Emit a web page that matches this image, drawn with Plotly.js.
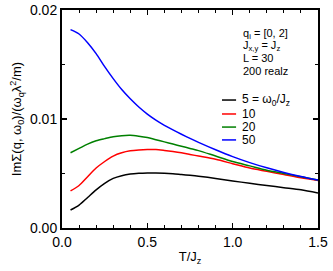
<!DOCTYPE html>
<html><head><meta charset="utf-8">
<script src="https://cdn.plot.ly/plotly-3.0.1.min.js"></script>
<style>html,body{margin:0;padding:0;background:#fff}#plot{width:333px;height:271px}</style>
</head><body><div id="plot"></div>
<script>
const T = [0.05,0.1,0.15,0.2,0.25,0.3,0.35,0.4,0.45,0.5,0.55,0.6,0.65,0.7,0.75,0.8,0.9,1.0,1.1,1.2,1.3,1.4,1.5];
const w5  = [0.00165,0.0021,0.0028,0.0035,0.0041,0.00455,0.0048,0.00495,0.00502,0.00505,0.00505,0.00502,0.00497,0.0049,0.00483,0.00475,0.00455,0.00432,0.0041,0.0039,0.0037,0.0035,0.0032];
const w10 = [0.0034,0.0039,0.0047,0.0055,0.0061,0.0066,0.0069,0.00708,0.00716,0.0072,0.0072,0.00712,0.00702,0.0069,0.00675,0.0066,0.0063,0.0059,0.0055,0.0052,0.0049,0.0046,0.00435];
const w20 = [0.0069,0.0073,0.0077,0.0080,0.0082,0.00838,0.00847,0.0085,0.00842,0.0083,0.0081,0.0079,0.0077,0.0075,0.0073,0.0071,0.0066,0.0061,0.0057,0.0053,0.0050,0.0047,0.0044];
const w50 = [0.0182,0.0178,0.0170,0.0160,0.0148,0.0137,0.0127,0.01185,0.0111,0.01045,0.0099,0.00942,0.0090,0.0086,0.00822,0.00786,0.00718,0.00655,0.0060,0.00552,0.0051,0.00473,0.0044];
const seriesNames = ['5 = ω<sub>0</sub>/J<sub>z</sub>','10','20','50'];
const seriesColors = ['#000000','#ff0000','#008000','#0000ff'];
const seriesData = [w5,w10,w20,w50];
const infoLines = ['q<sub>i</sub> = [0, 2]','J<sub>x,y</sub> = J<sub>z</sub>','L = 30','200 realz'];

const font = 'Liberation Sans, Arial, Helvetica, sans-serif';
const traces = seriesData.map((d,i)=>({
  x:T, y:d, type:'scatter', mode:'lines', name:seriesNames[i],
  line:{color:seriesColors[i], width:1.5, shape:'spline', smoothing:0.8},
  showlegend:false
}));

const legY = [0.587,0.523,0.463,0.404];
const shapes = [];
const annotations = [];
seriesNames.forEach((n,i)=>{
  shapes.push({type:'line', xref:'paper', yref:'paper', x0:0.625, x1:0.68, y0:legY[i], y1:legY[i], line:{color:seriesColors[i], width:1.5}});
  annotations.push({xref:'paper', yref:'paper', x:0.695, y:legY[i], xanchor:'left', yanchor:'middle', showarrow:false, text:n, font:{family:font, size:12, color:'#000'}});
});
const infoY = [0.892,0.835,0.78,0.72];
infoLines.forEach((t,i)=>{
  annotations.push({xref:'paper', yref:'paper', x:0.70, y:infoY[i], xanchor:'left', yanchor:'middle', showarrow:false, text:t, font:{family:font, size:11, color:'#000'}});
});

const axisCommon = {
  showline:true, linecolor:'#000', linewidth:2, mirror:'allticks',
  ticks:'inside', ticklen:5, tickwidth:1.2, tickcolor:'#000',
  showgrid:false, zeroline:false,
  tickfont:{family:font, size:14, color:'#000'}
};
const layout = {
  width:333, height:271,
  margin:{l:62, r:15, t:10, b:43},
  paper_bgcolor:'#fff', plot_bgcolor:'#fff',
  font:{family:font, color:'#000'},
  xaxis:Object.assign({}, axisCommon, {
    range:[0,1.5], dtick:0.5, tick0:0, tickformat:'.1f',
    minor:{ticks:'inside', ticklen:3, dtick:0.1, tickcolor:'#000', tickwidth:1},
    title:{text:'T/J<sub>z</sub>', font:{family:font, size:13, color:'#000'}, standoff:3}
  }),
  yaxis:Object.assign({}, axisCommon, {
    range:[0,0.02], dtick:0.01, tick0:0, tickformat:'.2f',
    minor:{ticks:'inside', ticklen:3, dtick:0.005, tickcolor:'#000', tickwidth:1},
    title:{text:'ImΣ(q, ω<sub>0</sub>)/(ω<sub>q</sub>λ<sup>2</sup>/m)', font:{family:font, size:13, color:'#000'}, standoff:5}
  }),
  shapes:shapes,
  annotations:annotations
};
Plotly.newPlot('plot', traces, layout, {displayModeBar:false, staticPlot:true});
</script>
</body></html>
